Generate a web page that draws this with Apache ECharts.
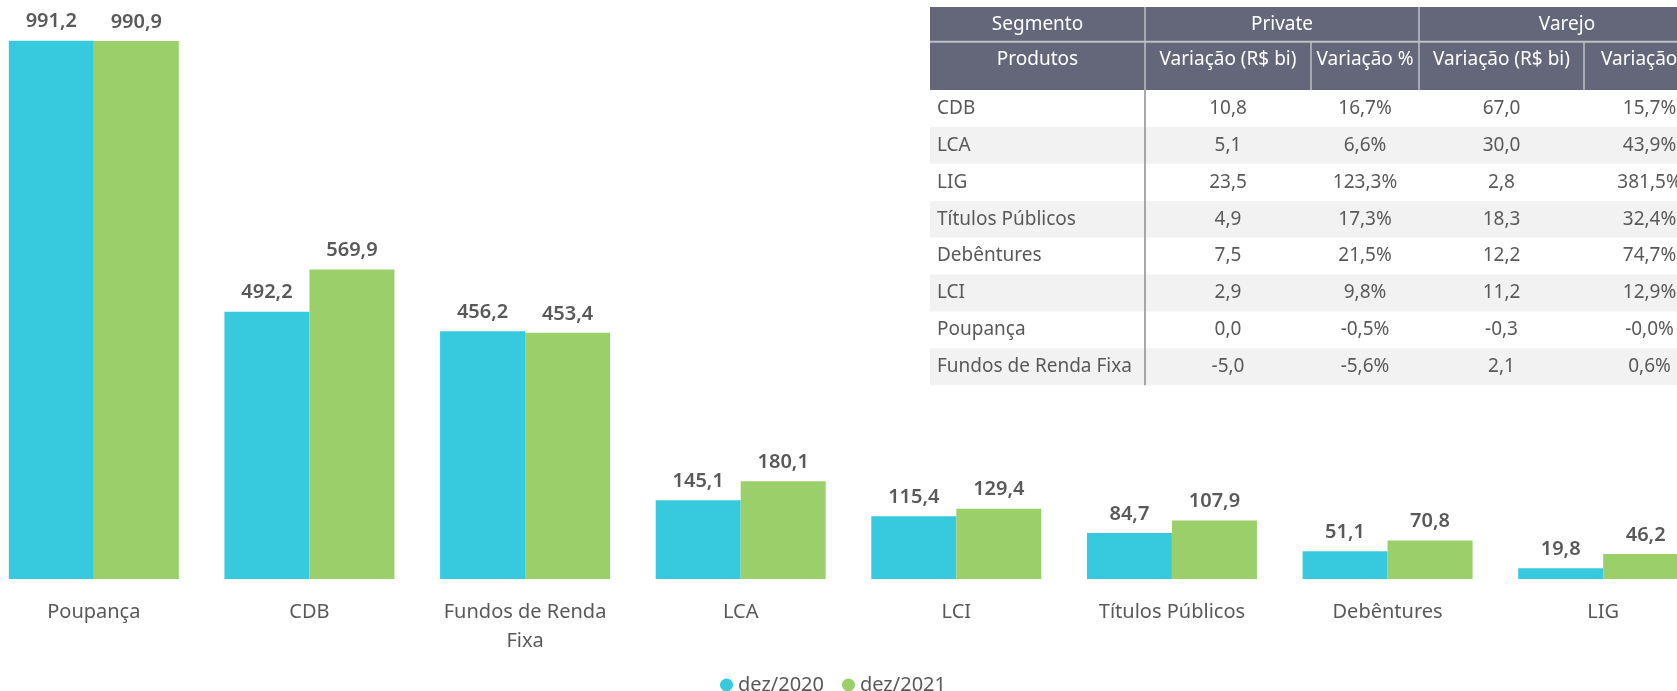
<!DOCTYPE html>
<html><head><meta charset="utf-8">
<script src="https://cdn.jsdelivr.net/npm/echarts@6/dist/echarts.min.js"></script>
<style>html,body{margin:0;padding:0;background:#fff;width:1677px;height:691px;overflow:hidden;position:relative;}
#c{position:absolute;left:-14px;top:0;width:1725px;height:691px;}</style>
</head><body><div id="c"></div>
<script>
// ---- chart data ----
const categories = ['Poupança', 'CDB', 'Fundos de Renda\nFixa', 'LCA', 'LCI', 'Títulos Públicos', 'Debêntures', 'LIG'];
const seriesNames = ['dez/2020', 'dez/2021'];
const values2020 = [991.2, 492.2, 456.2, 145.1, 115.4, 84.7, 51.1, 19.8];
const values2021 = [990.9, 569.9, 453.4, 180.1, 129.4, 107.9, 70.8, 46.2];

// ---- table data ----
const tableHeader1 = ['Segmento', 'Private', 'Varejo'];
const tableHeader2 = ['Produtos', 'Variação (R$ bi)', 'Variação %', 'Variação (R$ bi)', 'Variação %'];
const tableProducts = ['CDB', 'LCA', 'LIG', 'Títulos Públicos', 'Debêntures', 'LCI', 'Poupança', 'Fundos de Renda Fixa'];
const privateVarBi = ['10,8', '5,1', '23,5', '4,9', '7,5', '2,9', '0,0', '-5,0'];
const privateVarPct = ['16,7%', '6,6%', '123,3%', '17,3%', '21,5%', '9,8%', '-0,5%', '-5,6%'];
const varejoVarBi = ['67,0', '30,0', '2,8', '18,3', '12,2', '11,2', '-0,3', '2,1'];
const varejoVarPct = ['15,7%', '43,9%', '381,5%', '32,4%', '74,7%', '12,9%', '-0,0%', '0,6%'];

const FONT = '"Noto Sans", "Open Sans", sans-serif';
const TXT = '#595959';
const BLUE = '#37CADE';
const GREEN = '#9BCF6A';
const OFF = 14; // container is shifted left by this many px

function fmt(v) { return v.toFixed(1).replace('.', ','); }

// ---- table layout (page coordinates, shifted into container) ----
const colX = [930, 1145, 1311, 1419, 1584, 1715].map(v => v + OFF);
const hTop = 7, hMid = 41.7, hBot = 90, rowH = 36.9;
const g = [];
function text(t, x, y, align, color) {
  g.push({ type: 'text', silent: true, z: 10,
    style: { text: t, x: x, y: y, align: align, verticalAlign: 'middle', textAlign: align, textVerticalAlign: 'middle',
      fill: color, font: '19px ' + FONT } });
}
function line(x1, y1, x2, y2, c, w) {
  g.push({ type: 'line', silent: true, z: 5, shape: { x1, y1, x2, y2 }, style: { stroke: c, lineWidth: w } });
}
g.push({ type: 'rect', silent: true, z: 1, shape: { x: colX[0], y: hTop, width: colX[5] - colX[0], height: hBot - hTop }, style: { fill: '#646779' } });
for (let i = 0; i < tableProducts.length; i++) {
  if (i % 2 === 1) {
    g.push({ type: 'rect', silent: true, z: 1, shape: { x: colX[0], y: hBot + i * rowH, width: colX[5] - colX[0], height: rowH }, style: { fill: '#F2F2F2' } });
  }
}
line(colX[0], hMid, colX[5], hMid, '#BDBFC7', 2);
line(colX[1], hTop, colX[1], hMid, '#BDBFC7', 1.5);
line(colX[3], hTop, colX[3], hMid, '#BDBFC7', 1.5);
[1, 2, 3, 4].forEach(k => line(colX[k], hMid, colX[k], hBot, '#BDBFC7', 1.5));
line(colX[1], hBot, colX[1], hBot + tableProducts.length * rowH, '#8C8C8C', 1.5);

text(tableHeader1[0], (colX[0] + colX[1]) / 2, 25, 'center', '#FFFFFF');
text(tableHeader1[1], (colX[1] + colX[3]) / 2, 25, 'center', '#FFFFFF');
text(tableHeader1[2], (colX[3] + colX[5]) / 2, 25, 'center', '#FFFFFF');
for (let k = 0; k < 5; k++) text(tableHeader2[k], (colX[k] + colX[k + 1]) / 2, 60, 'center', '#FFFFFF');
const cols = [privateVarBi, privateVarPct, varejoVarBi, varejoVarPct];
for (let i = 0; i < tableProducts.length; i++) {
  const cy = hBot + (i + 0.5) * rowH;
  text(tableProducts[i], colX[0] + 7, cy, 'left', TXT);
  for (let k = 0; k < 4; k++) text(cols[k][i], (colX[k + 1] + colX[k + 2]) / 2, cy, 'center', TXT);
}

const chart = echarts.init(document.getElementById('c'));
const lbl = { show: true, position: 'top', distance: 9, color: TXT, fontSize: 20, fontWeight: 600, fontFamily: FONT,
  formatter: p => fmt(p.value) };
chart.setOption({
  animation: false,
  backgroundColor: '#ffffff',
  grid: { left: 0, right: 0, top: 36, bottom: 112, containLabel: false },
  legend: {
    data: seriesNames, left: 715 + OFF, top: 670, icon: 'circle', itemWidth: 13, itemHeight: 13, itemGap: 18,
    textStyle: { color: TXT, fontSize: 20, fontFamily: FONT }
  },
  xAxis: {
    type: 'category', data: categories,
    axisLine: { show: false }, axisTick: { show: false },
    axisLabel: { color: TXT, fontSize: 20, fontFamily: FONT, margin: 19, lineHeight: 29, interval: 0 }
  },
  yAxis: { type: 'value', min: 0, max: 1000, show: false, splitLine: { show: false } },
  series: [
    { name: seriesNames[0], type: 'bar', data: values2020, barWidth: 85, barGap: '0%', itemStyle: { color: BLUE }, label: lbl },
    { name: seriesNames[1], type: 'bar', data: values2021, barWidth: 85, barGap: '0%', itemStyle: { color: GREEN }, label: lbl }
  ],
  graphic: { elements: g }
});
</script>
</body></html>
